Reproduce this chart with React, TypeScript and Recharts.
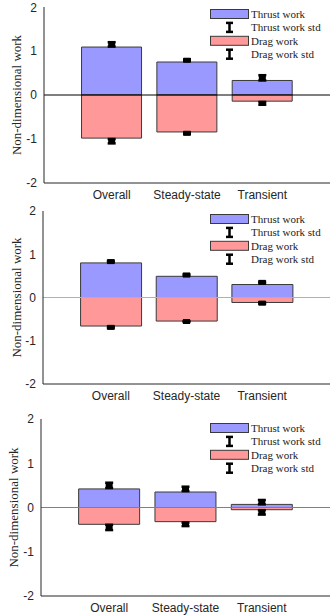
import React from "react";
import {
  ComposedChart,
  Bar,
  Scatter,
  ErrorBar,
  XAxis,
  YAxis,
  ReferenceLine,
} from "recharts";

const categories = ["Overall", "Steady-state", "Transient"];
const yTicks = [-2, -1, 0, 1, 2];

// panel 1
const thrust1 = [1.09, 0.75, 0.33];
const drag1 = [-0.98, -0.84, -0.14];
const thrustMean1 = [1.15, 0.79, 0.39];
const thrustStd1 = [0.05, 0.02, 0.06];
const dragMean1 = [-1.05, -0.87, -0.19];
const dragStd1 = [0.05, 0.02, 0.03];

// panel 2
const thrust2 = [0.8, 0.49, 0.3];
const drag2 = [-0.66, -0.545, -0.115];
const thrustMean2 = [0.83, 0.52, 0.35];
const thrustStd2 = [0.02, 0.02, 0.02];
const dragMean2 = [-0.69, -0.555, -0.13];
const dragStd2 = [0.02, 0.01, 0.02];

// panel 3
const thrust3 = [0.42, 0.35, 0.07];
const drag3 = [-0.38, -0.32, -0.05];
const thrustMean3 = [0.5, 0.42, 0.12];
const thrustStd3 = [0.06, 0.05, 0.05];
const dragMean3 = [-0.45, -0.38, -0.11];
const dragStd3 = [0.06, 0.04, 0.05];

const BLUE = "#9999ff";
const RED = "#ff9999";
const EDGE = "#3a3a3a";

function buildRows(
  thrust: number[],
  drag: number[],
  tMean: number[],
  tStd: number[],
  dMean: number[],
  dStd: number[]
) {
  return categories.map((name, i) => ({
    name,
    thrust: thrust[i],
    drag: drag[i],
    tMean: tMean[i],
    tStd: tStd[i],
    dMean: dMean[i],
    dStd: dStd[i],
  }));
}

const panels = [
  { top: 0, height: 205, mTop: 7, yw: 44, xh: 22, zero: "#000000", legendTop: 7, labelX: 16,
    rows: buildRows(thrust1, drag1, thrustMean1, thrustStd1, dragMean1, dragStd1) },
  { top: 200, height: 206, mTop: 11, yw: 43, xh: 22, zero: "#b0b0b0", legendTop: 12, labelX: 16,
    rows: buildRows(thrust2, drag2, thrustMean2, thrustStd2, dragMean2, dragStd2) },
  { top: 400, height: 216, mTop: 19, yw: 41, xh: 20, zero: "#808080", legendTop: 21, labelX: 13,
    rows: buildRows(thrust3, drag3, thrustMean3, thrustStd3, dragMean3, dragStd3) },
];

const legendRows = [
  { label: "Thrust work", kind: "box", color: BLUE },
  { label: "Thrust work std", kind: "bar" },
  { label: "Drag work", kind: "box", color: RED },
  { label: "Drag work std", kind: "bar" },
];

function WorkLegend() {
  return (
    <svg width={122} height={56} style={{ display: "block" }}>
      {legendRows.map((r, i) => {
        const cy = 7 + i * 13.4;
        return (
          <g key={r.label}>
            {r.kind === "box" ? (
              <rect x={1.5} y={cy - 4.5} width={38} height={9} fill={r.color} stroke={EDGE} strokeWidth={1} />
            ) : (
              <g stroke="#000" strokeWidth={2.5}>
                <line x1={20.5} y1={cy - 5} x2={20.5} y2={cy + 5} />
                <line x1={17} y1={cy - 4.5} x2={24} y2={cy - 4.5} />
                <line x1={17} y1={cy + 4.5} x2={24} y2={cy + 4.5} />
              </g>
            )}
            <text x={42} y={cy + 4} fontFamily="'Liberation Serif', serif" fontSize={11} fill="#222">
              {r.label}
            </text>
          </g>
        );
      })}
    </svg>
  );
}

function YLabel(props: any) {
  const vb = props.viewBox || {};
  const cy = vb.y + vb.height / 2;
  const x = props.labelX;
  return (
    <text
      x={x}
      y={cy}
      transform={`rotate(-90, ${x}, ${cy})`}
      textAnchor="middle"
      dominantBaseline="central"
      fontFamily="'Liberation Serif', serif"
      fontSize={13}
      fill="#262626"
    >
      Non-dimensional work
    </text>
  );
}

const meanShape = (p: any) => <rect x={p.cx - 3.5} y={p.cy - 2.5} width={7} height={5} fill="#000" />;

function Panel({ cfg }: { cfg: (typeof panels)[number] }) {
  return (
    <div style={{ position: "absolute", left: 0, top: cfg.top, width: 332, height: cfg.height }}>
      <ComposedChart
        width={332}
        height={cfg.height}
        data={cfg.rows}
        stackOffset="sign"
        barCategoryGap="10%"
        margin={{ top: cfg.mTop, right: 2, bottom: 0, left: 0 }}
      >
        <XAxis
          dataKey="name"
          height={cfg.xh}
          padding={{ left: 30, right: 30 }}
          tickLine={false}
          tickSize={0}
          tickMargin={7}
          axisLine={{ stroke: "#262626" }}
          tick={{ fontFamily: "'Liberation Sans', Arial, sans-serif", fontSize: 12, fill: "#262626" }}
        />
        <YAxis
          width={cfg.yw}
          domain={[-2, 2]}
          ticks={yTicks}
          allowDataOverflow
          tickLine={false}
          tickSize={0}
          tickMargin={7}
          axisLine={{ stroke: "#262626" }}
          tick={{ fontFamily: "'Liberation Sans', Arial, sans-serif", fontSize: 12, fill: "#262626" }}
          label={<YLabel labelX={cfg.labelX} />}
        />
        <Bar dataKey="thrust" stackId="s" fill={BLUE} stroke={EDGE} strokeWidth={1} isAnimationActive={false} />
        <Bar dataKey="drag" stackId="s" fill={RED} stroke={EDGE} strokeWidth={1} isAnimationActive={false} />
        <ReferenceLine y={0} stroke={cfg.zero} strokeWidth={1} />
        <Scatter dataKey="tMean" shape={meanShape} isAnimationActive={false}>
          <ErrorBar dataKey="tStd" direction="y" width={4} stroke="#000" strokeWidth={2.5} isAnimationActive={false} />
        </Scatter>
        <Scatter dataKey="dMean" shape={meanShape} isAnimationActive={false}>
          <ErrorBar dataKey="dStd" direction="y" width={4} stroke="#000" strokeWidth={2.5} isAnimationActive={false} />
        </Scatter>
      </ComposedChart>
      <div style={{ position: "absolute", top: cfg.legendTop, left: 209 }}>
        <WorkLegend />
      </div>
    </div>
  );
}

export default function App() {
  return (
    <div style={{ position: "absolute", left: 0, top: 0, width: 332, height: 616, background: "#fff" }}>
      {panels.map((p, i) => (
        <Panel key={i} cfg={p} />
      ))}
    </div>
  );
}
